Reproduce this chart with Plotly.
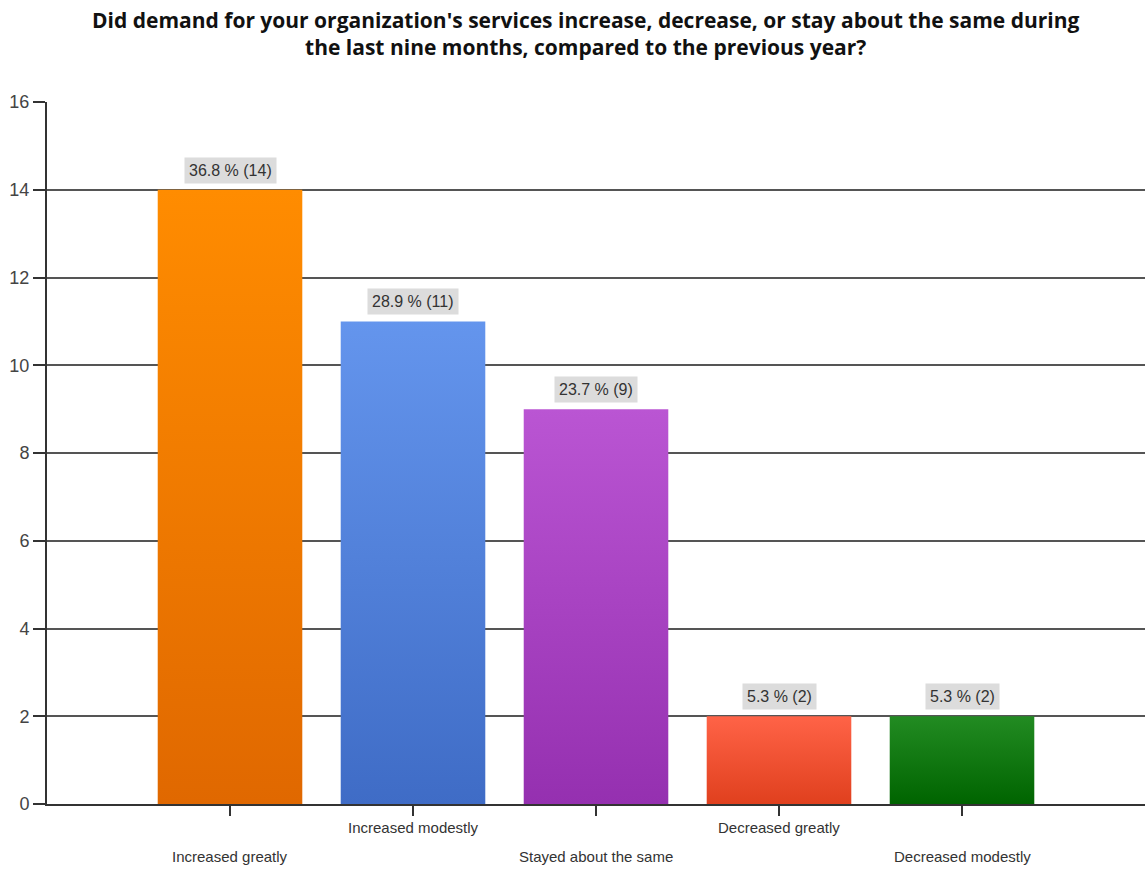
import plotly.graph_objects as go

# Survey responses
categories = ["Increased greatly", "Increased modestly", "Stayed about the same",
              "Decreased greatly", "Decreased modestly"]
counts = [14, 11, 9, 2, 2]
percents = [36.8, 28.9, 23.7, 5.3, 5.3]

# top / bottom colours for each bar's vertical gradient
top_colors = ["#FF8C00", "#6495ED", "#BA55D3", "#FF6347", "#228B22"]
bottom_colors = ["#E06800", "#3F6CC6", "#9530B0", "#E0401E", "#006400"]

y_ticks = [0, 2, 4, 6, 8, 10, 12, 14, 16]

title_text = ("Did demand for your organization's services increase, decrease, or stay about the same during<br>"
              "the last nine months, compared to the previous year?")

bar_width = 0.79
label_font = "Liberation Sans, Arial"

fig = go.Figure()

for i, (cat, v) in enumerate(zip(categories, counts)):
    x0, x1 = i - bar_width / 2, i + bar_width / 2
    fig.add_trace(go.Scatter(
        x=[x0, x1, x1, x0, x0],
        y=[0, 0, v, v, 0],
        mode="lines",
        line=dict(width=0),
        fill="toself",
        fillgradient=dict(type="vertical",
                          colorscale=[[0, bottom_colors[i]], [1, top_colors[i]]]),
        name=cat,
        hoverinfo="skip",
        showlegend=False,
    ))
    fig.add_annotation(
        x=i, y=v, xref="x", yref="y",
        text=f"{percents[i]} % ({v})",
        showarrow=False, yanchor="bottom", yshift=6,
        bgcolor="#DCDCDC", borderpad=4,
        font=dict(family=label_font, size=16, color="#333333"),
    )
    # staggered category labels
    fig.add_annotation(
        x=i, y=0, xref="x", yref="paper",
        text=cat, showarrow=False,
        yanchor="middle",
        yshift=-23 if i % 2 == 1 else -52,
        font=dict(family=label_font, size=15, color="#333333"),
    )

# chart title, two centred lines above the plot
fig.add_annotation(
    text=title_text, xref="paper", yref="paper",
    x=0.491, y=1, xanchor="center", yanchor="middle", yshift=69,
    showarrow=False, align="center",
    font=dict(family="Open Sans, sans-serif", size=21, color="#111111", weight="bold"),
)

fig.update_layout(
    width=1145, height=869,
    margin=dict(l=47, r=0, t=102, b=65),
    paper_bgcolor="white", plot_bgcolor="white",
    xaxis=dict(
        range=[-1, 5], tickvals=[0, 1, 2, 3, 4], showticklabels=False,
        ticks="outside", ticklen=10, tickwidth=2, tickcolor="#333333",
        showgrid=False, zeroline=False,
        showline=True, linecolor="#333333", linewidth=2,
    ),
    yaxis=dict(
        range=[0, 16], tickvals=y_ticks,
        ticks="outside", ticklen=12, tickwidth=2, tickcolor="#333333",
        showgrid=True, gridcolor="#555555", gridwidth=2,
        zeroline=False, showline=True, linecolor="#333333", linewidth=2,
        tickfont=dict(family=label_font, size=18, color="#444444"),
    ),
)

fig.write_html("out.html")
